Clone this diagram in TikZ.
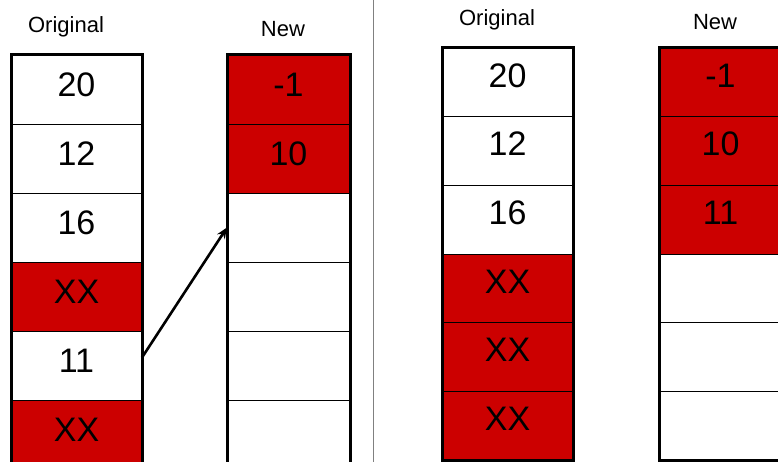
\documentclass[tikz,border=0pt]{standalone}
\usepackage{fontspec}
\setmainfont{Liberation Sans}
\usetikzlibrary{arrows.meta}
\definecolor{cellred}{HTML}{CC0000}
\begin{document}
\begin{tikzpicture}[x=1pt,y=-1pt,
  cellL/.style={rectangle,draw=black,line width=0.9pt,inner sep=0pt,outer sep=0pt,anchor=north west,
     minimum height=69pt,font=\fontsize{34}{34}\selectfont,text depth=10pt},
  cellR/.style={rectangle,draw=black,line width=0.9pt,inner sep=0pt,outer sep=0pt,anchor=north west,
     minimum height=68.7pt,font=\fontsize{34}{34}\selectfont,text depth=14pt},
  red/.style={fill=cellred},
  wide/.style={minimum width=131pt},
  narrow/.style={minimum width=123pt},
  border/.style={draw=black,line width=3pt},
  title/.style={anchor=base,font=\fontsize{22}{22}\selectfont,inner sep=0pt}]
\useasboundingbox (0,0) rectangle (778,462);
\clip (0,0) rectangle (778,462);
% separator
\coordinate (s1) at (373,0);
\coordinate (s2) at (373,462);
\draw[line width=1pt,draw=gray] (s1) -- (s2);
% titles
\node[title] (tOL) at (66,33) {Original};
\node[title] (tNL) at (283,37) {New};
\node[title] (tOR) at (497,26) {Original};
\node[title] (tNR) at (715,30) {New};
% left original
\node[cellL,wide] (lo1) at (11,55) {20};
\node[cellL,wide] (lo2) at (lo1.south west) {12};
\node[cellL,wide] (lo3) at (lo2.south west) {16};
\node[cellL,wide,red] (lo4) at (lo3.south west) {XX};
\node[cellL,wide] (lo5) at (lo4.south west) {11};
\node[cellL,wide,red] (lo6) at (lo5.south west) {XX};
\draw[border] (lo1.north west) rectangle (lo6.south east);
% left new
\node[cellL,narrow,red] (ln1) at (227,55) {-1};
\node[cellL,narrow,red] (ln2) at (ln1.south west) {10};
\node[cellL,narrow] (ln3) at (ln2.south west) {};
\node[cellL,narrow] (ln4) at (ln3.south west) {};
\node[cellL,narrow] (ln5) at (ln4.south west) {};
\node[cellL,narrow] (ln6) at (ln5.south west) {};
\draw[border] (ln1.north west) rectangle (ln6.south east);
% arrow
\draw[line width=2.6pt,-{Stealth[length=11pt,width=9pt]}] ([yshift=8pt]lo5.east) -- (ln3.west);
% right original
\node[cellR,wide] (ro1) at (442,48) {20};
\node[cellR,wide] (ro2) at (ro1.south west) {12};
\node[cellR,wide] (ro3) at (ro2.south west) {16};
\node[cellR,wide,red] (ro4) at (ro3.south west) {XX};
\node[cellR,wide,red] (ro5) at (ro4.south west) {XX};
\node[cellR,wide,red] (ro6) at (ro5.south west) {XX};
\draw[border] (ro1.north west) rectangle (ro6.south east);
% right new
\node[cellR,narrow,red] (rn1) at (659,48) {-1};
\node[cellR,narrow,red] (rn2) at (rn1.south west) {10};
\node[cellR,narrow,red] (rn3) at (rn2.south west) {11};
\node[cellR,narrow] (rn4) at (rn3.south west) {};
\node[cellR,narrow] (rn5) at (rn4.south west) {};
\node[cellR,narrow] (rn6) at (rn5.south west) {};
\draw[border] (rn1.north west) rectangle (rn6.south east);
\end{tikzpicture}
\end{document}
